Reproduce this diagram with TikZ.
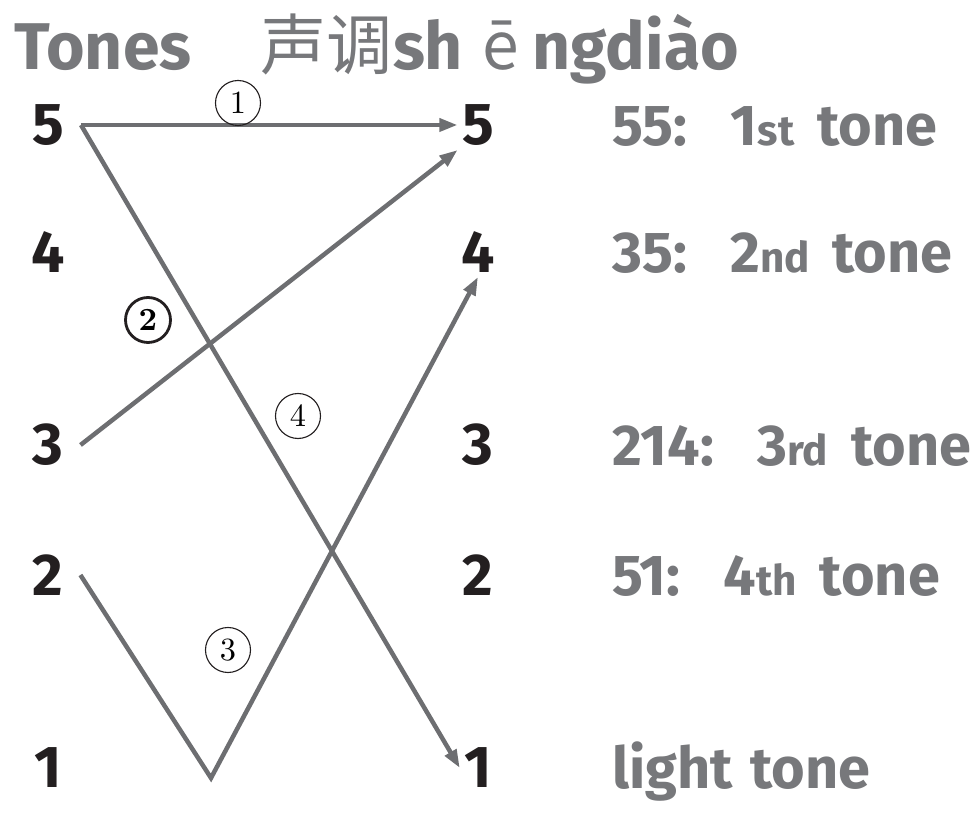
\documentclass[tikz,border=0pt]{standalone}
\usepackage{fontspec}
\setmainfont{Fira Sans}
\newfontfamily\cjkfont{Noto Sans CJK SC}
\newfontfamily\lmfont{lmroman10-regular}[Extension=.otf,BoldFont=lmroman10-bold]
\usetikzlibrary{arrows.meta}
\definecolor{linegray}{HTML}{6D6E71}
\definecolor{textgray}{HTML}{77787B}
\definecolor{numblack}{HTML}{231F20}

\begin{document}
\begin{tikzpicture}[x=0.025cm,y=0.025cm,
  num/.style={inner sep=3pt,text=numblack,font=\fontsize{42}{48}\selectfont\bfseries},
  numl/.style={num,inner xsep=12pt},
  lbl/.style={anchor=base west,inner sep=0pt,text=textgray,font=\fontsize{41}{48}\selectfont\bfseries},
  circ/.style={circle,draw=numblack,line width=0.8pt,minimum size=32pt,inner sep=0pt,
    font=\fontsize{23}{26}\lmfont},
  conn/.style={draw=linegray,line width=3.2pt,-{Triangle[length=13pt,width=9pt]}}]
\useasboundingbox (0,0) rectangle (980,827);
\node[anchor=base west,inner sep=0pt,text=textgray,font=\fontsize{47}{56}\selectfont\bfseries] (title) at (14,757)
  {Tones\hspace{1.05em}{\cjkfont\mdseries 声调}sh\hspace{0.3em}{\cjkfont\mdseries ē}\hspace{0.2em}ngdiào};
\node[numl] (l5) at (48,702) {5};
\node[numl] (l4) at (48,575) {4};
\node[numl] (l3) at (48,382) {3};
\node[numl] (l2) at (48,252) {2};
\node[numl] (l1) at (48,59) {1};
\node[num] (r5) at (478,702) {5};
\node[num] (r4) at (478,575) {4};
\node[num] (r3) at (478,382) {3};
\node[num] (r2) at (478,252) {2};
\node[num] (r1) at (478,59) {1};
\node[lbl] (t5) at (612,681) {55:\hspace{0.75em}1{\fontsize{30}{34}\selectfont st}\hspace{0.4em}tone};
\node[lbl] (t4) at (612,554) {35:\hspace{0.75em}2{\fontsize{30}{34}\selectfont nd}\hspace{0.4em}tone};
\node[lbl] (t3) at (612,361) {214:\hspace{0.75em}3{\fontsize{30}{34}\selectfont rd}\hspace{0.4em}tone};
\node[lbl] (t2) at (612,231) {51:\hspace{0.75em}4{\fontsize{30}{34}\selectfont th}\hspace{0.4em}tone};
\node[lbl] (t1) at (612,38) {light\hspace{0.3em}tone};
\coordinate (v) at (211,49);
\draw[conn] (l5.east) -- (r5.west);
\draw[conn] (l3.east) -- (r5.south west);
\draw[conn] (l2.east) -- (v) -- (r4.south);
\draw[conn] (l5.east) -- (r1.west);
\node[circ] (c1) at (238,724) {1};
\node[circ,line width=2pt] (c2) at (148,507) {\bfseries 2};
\node[circ] (c3) at (228,177) {3};
\node[circ] (c4) at (298,411) {4};
\end{tikzpicture}
\end{document}
